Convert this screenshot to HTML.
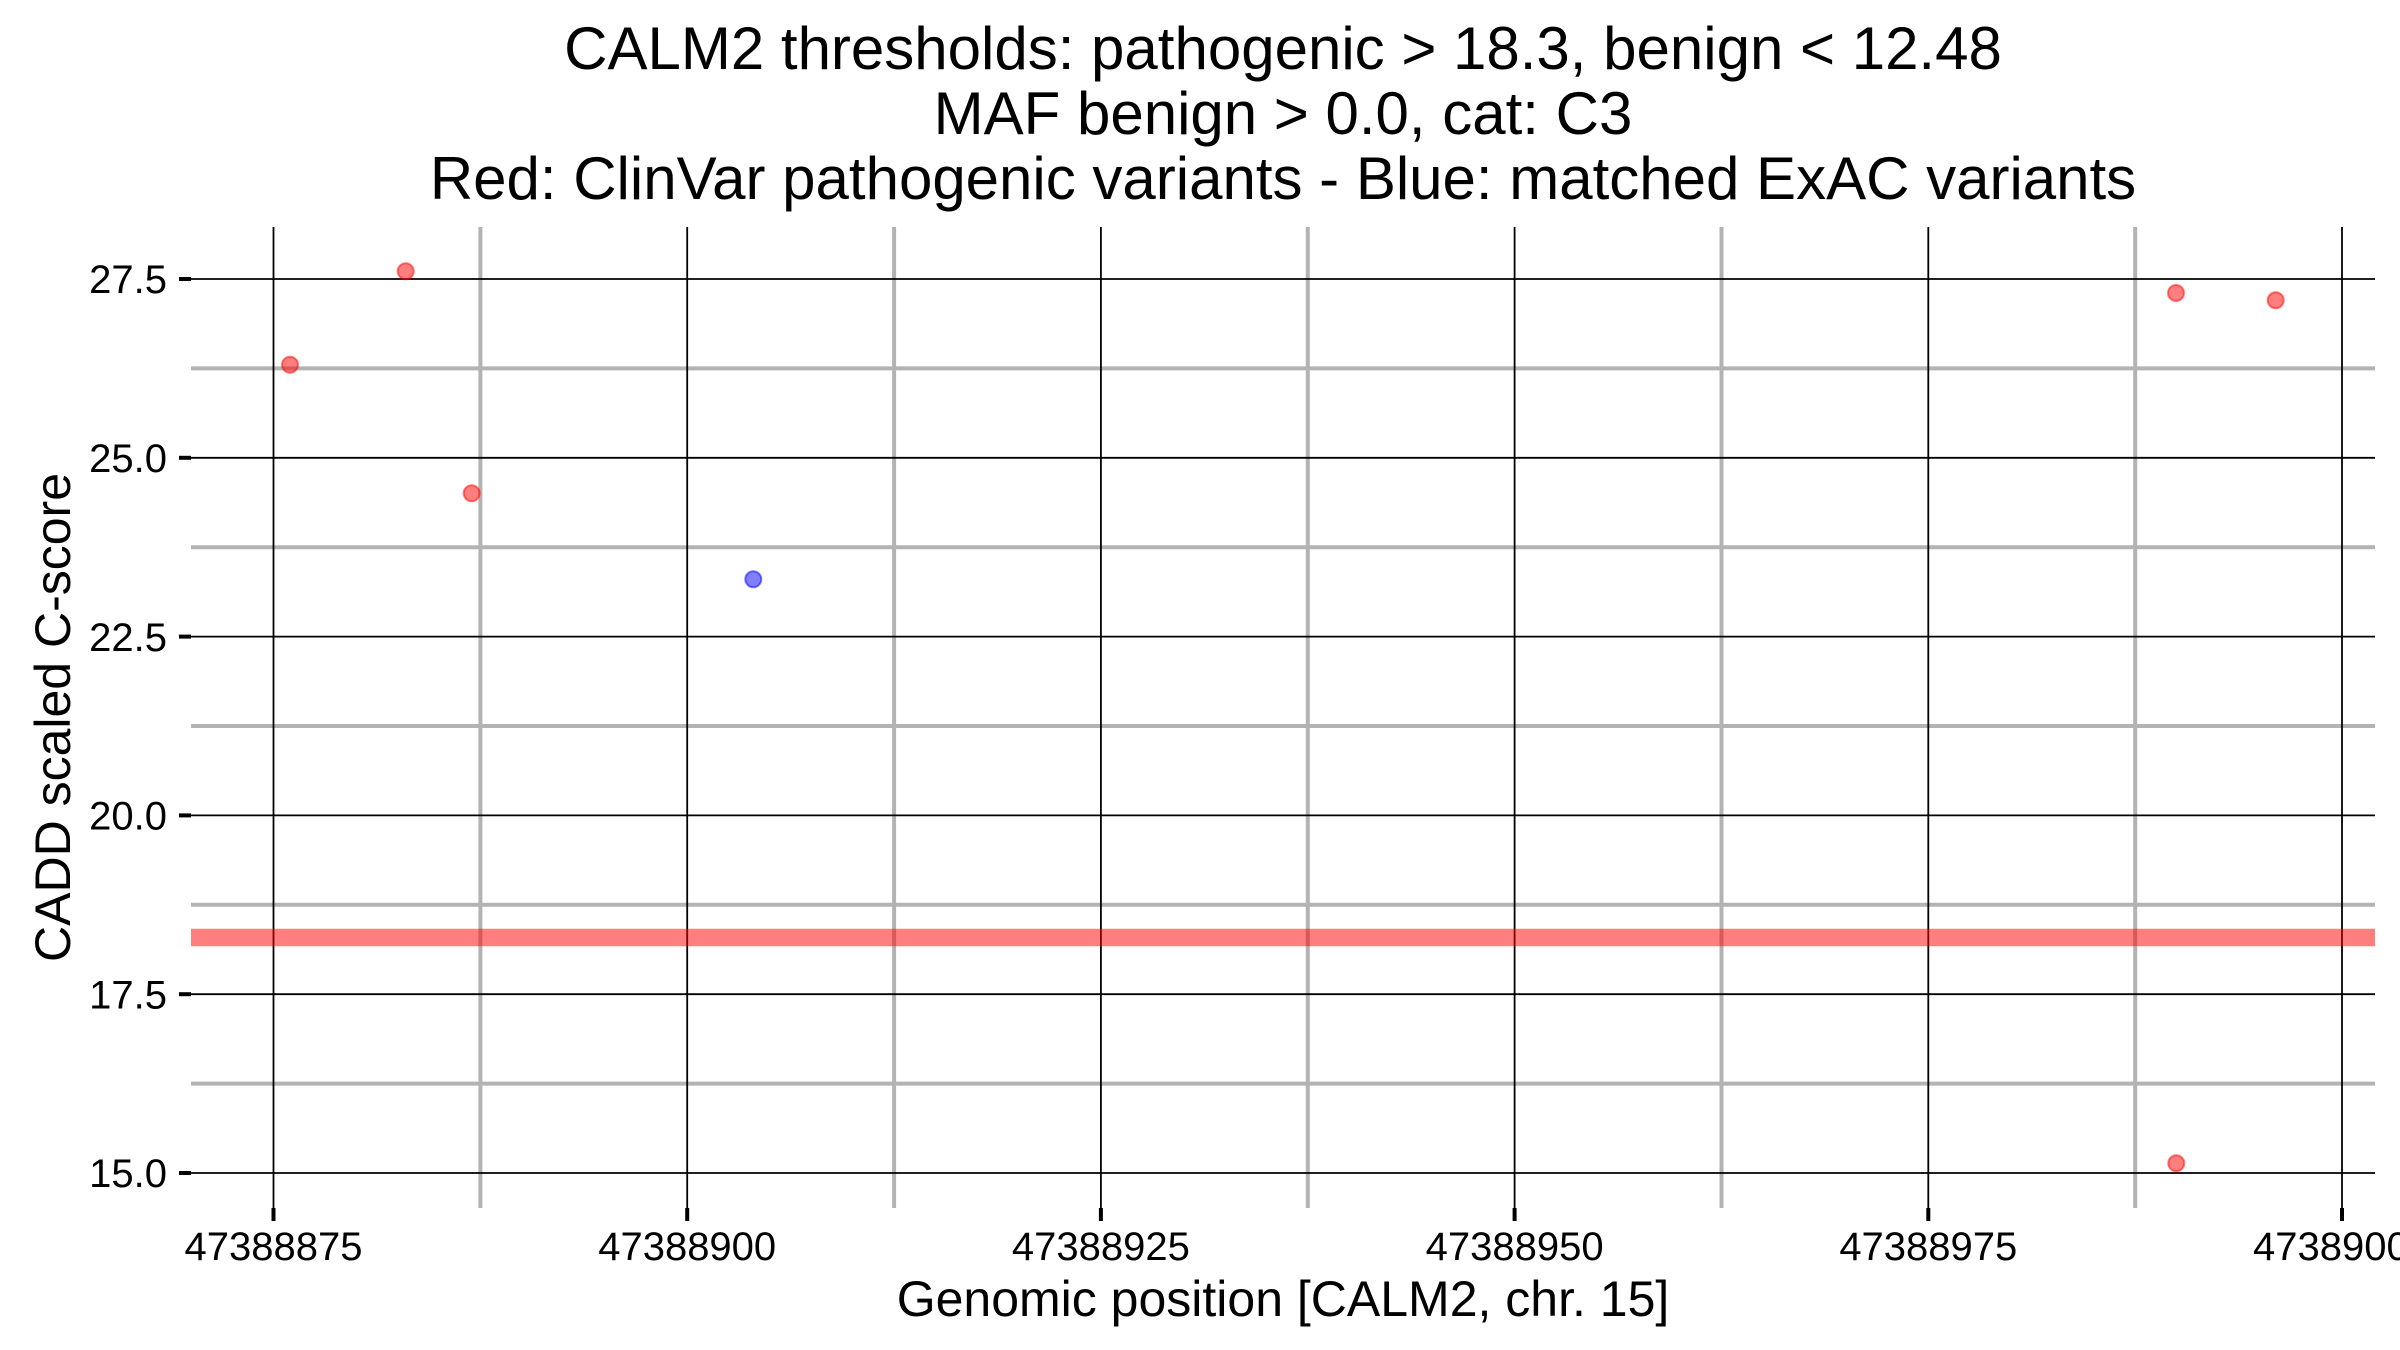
<!DOCTYPE html>
<html>
<head>
<meta charset="utf-8">
<style>
  html, body { margin: 0; padding: 0; background: #ffffff; }
  svg { display: block; }
  text { font-family: "Liberation Sans", Arial, sans-serif; fill: #000; }
</style>
</head>
<body>
<svg width="2400" height="1350" viewBox="0 0 2400 1350" xmlns="http://www.w3.org/2000/svg">
  <rect x="0" y="0" width="2400" height="1350" fill="#ffffff"/>

  <!-- Title -->
  <text x="1283" y="69" font-size="60" text-anchor="middle">CALM2 thresholds: pathogenic &gt; 18.3, benign &lt; 12.48</text>
  <text x="1283" y="134" font-size="60" text-anchor="middle">MAF benign &gt; 0.0, cat: C3</text>
  <text x="1283" y="199" font-size="60" text-anchor="middle">Red: ClinVar pathogenic variants - Blue: matched ExAC variants</text>

  <!-- Minor gridlines (gray) -->
  <g stroke="#b3b3b3" stroke-width="4">
    <line x1="191" y1="368.4" x2="2375" y2="368.4"/>
    <line x1="191" y1="547.2" x2="2375" y2="547.2"/>
    <line x1="191" y1="726" x2="2375" y2="726"/>
    <line x1="191" y1="904.8" x2="2375" y2="904.8"/>
    <line x1="191" y1="1083.6" x2="2375" y2="1083.6"/>
    <line x1="480.4" y1="227" x2="480.4" y2="1208"/>
    <line x1="894.1" y1="227" x2="894.1" y2="1208"/>
    <line x1="1307.8" y1="227" x2="1307.8" y2="1208"/>
    <line x1="1721.5" y1="227" x2="1721.5" y2="1208"/>
    <line x1="2135.2" y1="227" x2="2135.2" y2="1208"/>
  </g>

  <!-- Major gridlines (black) -->
  <g stroke="#000000" stroke-width="1.8">
    <line x1="191" y1="279" x2="2375" y2="279"/>
    <line x1="191" y1="457.8" x2="2375" y2="457.8"/>
    <line x1="191" y1="636.6" x2="2375" y2="636.6"/>
    <line x1="191" y1="815.4" x2="2375" y2="815.4"/>
    <line x1="191" y1="994.2" x2="2375" y2="994.2"/>
    <line x1="191" y1="1173" x2="2375" y2="1173"/>
    <line x1="273.5" y1="227" x2="273.5" y2="1208"/>
    <line x1="687.2" y1="227" x2="687.2" y2="1208"/>
    <line x1="1100.9" y1="227" x2="1100.9" y2="1208"/>
    <line x1="1514.6" y1="227" x2="1514.6" y2="1208"/>
    <line x1="1928.3" y1="227" x2="1928.3" y2="1208"/>
    <line x1="2342" y1="227" x2="2342" y2="1208"/>
  </g>

  <!-- Threshold line at 18.3 -->
  <line x1="191" y1="937.5" x2="2375" y2="937.5" stroke="rgba(255,0,0,0.5)" stroke-width="17.6"/>

  <!-- Points -->
  <g fill="rgba(255,0,0,0.5)" stroke="rgba(255,0,0,0.5)" stroke-width="2">
    <circle cx="290" cy="364.7" r="8"/>
    <circle cx="405.7" cy="271.3" r="8"/>
    <circle cx="471.7" cy="493.3" r="8"/>
    <circle cx="2176" cy="293" r="8"/>
    <circle cx="2275.7" cy="300.3" r="8"/>
    <circle cx="2176.3" cy="1163.3" r="8"/>
  </g>
  <g fill="rgba(0,0,255,0.5)" stroke="rgba(0,0,255,0.5)" stroke-width="2">
    <circle cx="753.3" cy="579.3" r="8"/>
  </g>

  <!-- Y axis ticks -->
  <g stroke="#000" stroke-width="4">
    <line x1="179" y1="279" x2="191" y2="279"/>
    <line x1="179" y1="457.8" x2="191" y2="457.8"/>
    <line x1="179" y1="636.6" x2="191" y2="636.6"/>
    <line x1="179" y1="815.4" x2="191" y2="815.4"/>
    <line x1="179" y1="994.2" x2="191" y2="994.2"/>
    <line x1="179" y1="1173" x2="191" y2="1173"/>
  </g>
  <!-- X axis ticks -->
  <g stroke="#000" stroke-width="4">
    <line x1="273.5" y1="1208" x2="273.5" y2="1221"/>
    <line x1="687.2" y1="1208" x2="687.2" y2="1221"/>
    <line x1="1100.9" y1="1208" x2="1100.9" y2="1221"/>
    <line x1="1514.6" y1="1208" x2="1514.6" y2="1221"/>
    <line x1="1928.3" y1="1208" x2="1928.3" y2="1221"/>
    <line x1="2342" y1="1208" x2="2342" y2="1221"/>
  </g>

  <!-- Y tick labels -->
  <g font-size="40" text-anchor="end">
    <text x="167" y="293.2">27.5</text>
    <text x="167" y="472">25.0</text>
    <text x="167" y="650.8">22.5</text>
    <text x="167" y="829.6">20.0</text>
    <text x="167" y="1008.4">17.5</text>
    <text x="167" y="1187.2">15.0</text>
  </g>

  <!-- X tick labels -->
  <g font-size="40" text-anchor="middle">
    <text x="273.5" y="1260">47388875</text>
    <text x="687.2" y="1260">47388900</text>
    <text x="1100.9" y="1260">47388925</text>
    <text x="1514.6" y="1260">47388950</text>
    <text x="1928.3" y="1260">47388975</text>
    <text x="2342" y="1260">47389000</text>
  </g>

  <!-- Axis titles -->
  <text x="1283" y="1316" font-size="50" text-anchor="middle">Genomic position [CALM2, chr. 15]</text>
  <text x="0" y="0" font-size="50" text-anchor="middle" transform="translate(70,717.5) rotate(-90)">CADD scaled C-score</text>
</svg>
</body>
</html>
